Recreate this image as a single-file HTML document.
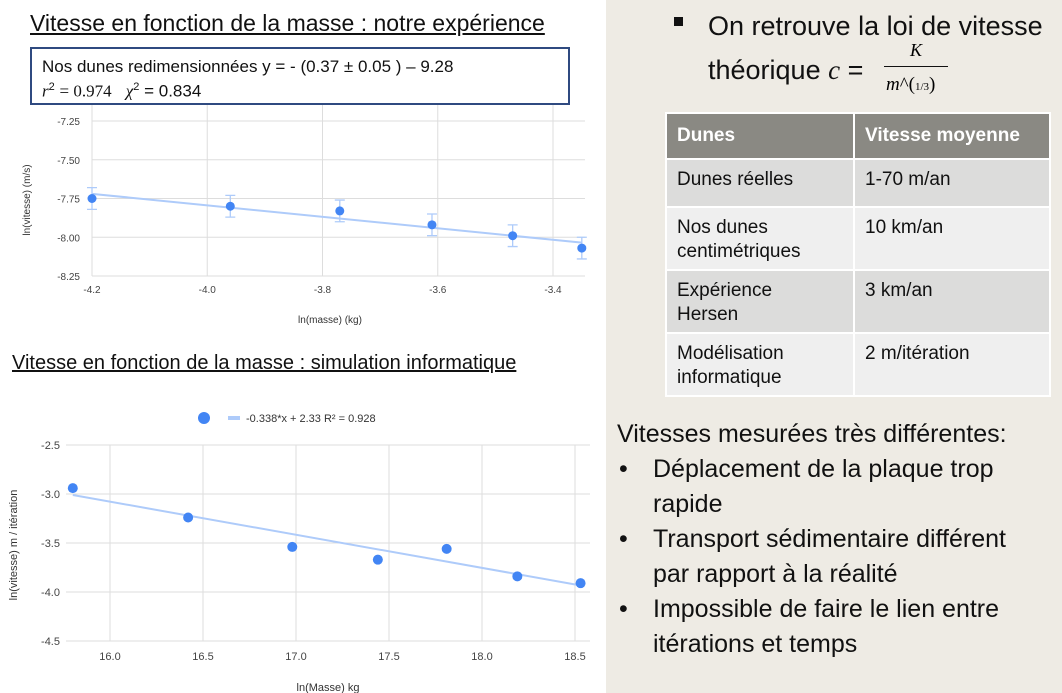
<!DOCTYPE html>
<html><head><meta charset="utf-8"><style>
body{margin:0;width:1062px;height:693px;overflow:hidden;background:#fff;font-family:"Liberation Sans",sans-serif;position:relative}
.abs{position:absolute}
#right{left:606px;top:0;width:456px;height:693px;background:#eeebe4}
.t{font-family:"Liberation Sans",sans-serif;color:#111}
table{border-collapse:collapse;font-size:19px;table-layout:fixed}
td{border:2px solid #fff;padding:8px 10px 0 10px;vertical-align:top;line-height:24px}
</style></head><body>
<div class="abs t" style="left:30px;top:10px;font-size:23px;text-decoration:underline">Vitesse en fonction de la masse : notre expérience</div>
<div class="abs t" style="left:12px;top:352px;font-size:20px;text-decoration:underline">Vitesse en fonction de la masse : simulation informatique</div>
<svg class="abs" id="c1" style="left:0;top:0" width="606" height="340"></svg>
<svg class="abs" id="c2" style="left:0;top:395" width="606" height="298"></svg>
<div class="abs t" style="left:30px;top:47px;width:540px;height:58px;border:2px solid #2f4a80;background:#fff;font-size:17px;padding:0 0 0 10px;box-sizing:border-box;line-height:21px;padding-top:7px">Nos dunes redimensionnées y = - (0.37 ± 0.05 ) – 9.28<br><span style="font-family:'Liberation Serif',serif;font-style:italic">r</span><sup style="font-size:11px">2</sup> <span style="font-family:'Liberation Serif',serif">= 0.974</span> &nbsp; <span style="font-family:'Liberation Serif',serif;font-style:italic">χ</span><sup style="font-size:11px">2</sup> = 0.834</div>
<div class="abs" id="right">
<div class="abs" style="left:68px;top:17px;width:9px;height:9px;background:#111"></div>
<div class="abs t" style="left:102px;top:4px;font-size:27px;line-height:44px">On retrouve la loi de vitesse<br>théorique <span style="font-family:'Liberation Serif',serif;font-style:italic">c</span> = </div>
<div class="abs" style="left:278px;top:40px;font-family:'Liberation Serif',serif;font-size:18px;width:64px;text-align:center"><i>K</i></div>
<div class="abs" style="left:278px;top:66px;width:64px;border-top:1.5px solid #111"></div>
<div class="abs" style="left:280px;top:74px;font-family:'Liberation Serif',serif;font-size:19px"><i>m</i>^(<span style="font-size:11px">1/3</span>)</div>
<table class="abs t" style="left:59px;top:112px;width:386px">
<tr style="background:#8a8983;color:#fff;font-weight:bold;height:46px"><td style="width:166px;padding-top:10px">Dunes</td><td style="padding-top:10px">Vitesse moyenne</td></tr>
<tr style="background:#dcdcdb;height:48px"><td>Dunes réelles</td><td>1-70 m/an</td></tr>
<tr style="background:#efefef;height:63px"><td style="padding-right:30px">Nos dunes centimétriques</td><td>10 km/an</td></tr>
<tr style="background:#dcdcdb;height:63px"><td style="padding-right:50px">Expérience Hersen</td><td>3 km/an</td></tr>
<tr style="background:#efefef;height:63px"><td style="padding-right:30px">Modélisation informatique</td><td>2 m/itération</td></tr>
</table>
<div class="abs t" style="left:11px;top:417px;font-size:25px;line-height:35px;width:440px">Vitesses mesurées très différentes:
<div style="position:relative;padding-left:36px;width:395px">
<div><span style="position:absolute;left:2px">•</span>Déplacement de la plaque trop rapide</div>
<div><span style="position:absolute;left:2px">•</span>Transport sédimentaire différent par rapport à la réalité</div>
<div><span style="position:absolute;left:2px">•</span>Impossible de faire le lien entre itérations et temps</div>
</div></div>
</div>
<script>
const c1X=[-4.2,-3.96,-3.77,-3.61,-3.47,-3.35];
const c1Y=[-7.75,-7.80,-7.83,-7.92,-7.99,-8.07];
const c1Err=[0.07,0.07,0.07,0.07,0.07,0.07];
const c1Trend=[[-4.2,-7.72],[-3.35,-8.035]];
const c1XTicks=[-4.2,-4.0,-3.8,-3.6,-3.4];
const c1YTicks=[-7.25,-7.50,-7.75,-8.00,-8.25];
const c2X=[15.8,16.42,16.98,17.44,17.81,18.19,18.53];
const c2Y=[-2.94,-3.24,-3.54,-3.67,-3.56,-3.84,-3.91];
const c2Slope=-0.338, c2Icpt=2.33;
const c2XTicks=[16.0,16.5,17.0,17.5,18.0,18.5];
const c2YTicks=[-2.5,-3.0,-3.5,-4.0,-4.5];
const NS='http://www.w3.org/2000/svg';
function mk(svg,tag,a,txt){const e=document.createElementNS(NS,tag);for(const k in a)e.setAttribute(k,a[k]);if(txt!==undefined)e.textContent=txt;svg.appendChild(e);return e;}
(function(){const s=document.getElementById('c1');
const x=v=>92+(v+4.2)/0.8*461, y=v=>121+(v+7.25)/-1*155;
c1YTicks.forEach(t=>{mk(s,'line',{x1:92,x2:585,y1:y(t),y2:y(t),stroke:'#ddd'});const l=mk(s,'text',{x:80,y:y(t)+4,'font-size':10,'text-anchor':'end',fill:'#444'},t.toFixed(2));});
c1XTicks.forEach(t=>{mk(s,'line',{x1:x(t),x2:x(t),y1:95,y2:y(-8.25),stroke:'#ddd'});const l=mk(s,'text',{x:x(t),y:y(-8.25)+17,'font-size':10,'text-anchor':'middle',fill:'#444'},t.toFixed(1));});
const tl=mk(s,'line',{x1:x(c1Trend[0][0]),y1:y(c1Trend[0][1]),x2:x(c1Trend[1][0]),y2:y(c1Trend[1][1]),stroke:'#aecbfa','stroke-width':2});

c1X.forEach((v,i)=>{const cx=x(v),t=y(c1Y[i]+c1Err[i]),b=y(c1Y[i]-c1Err[i]);
mk(s,'path',{d:`M${cx} ${t}V${b}M${cx-5} ${t}H${cx+5}M${cx-5} ${b}H${cx+5}`,stroke:'#aecbfa','stroke-width':1.3,fill:'none'});
const p=mk(s,'circle',{cx:cx,cy:y(c1Y[i]),r:4.5,fill:'#4285f4'});
});
mk(s,'text',{x:330,y:323,'font-size':10,'text-anchor':'middle',fill:'#333'},'ln(masse) (kg)');
mk(s,'text',{transform:'translate(30,200) rotate(-90)','font-size':10,'text-anchor':'middle',fill:'#333'},'ln(vitesse) (m/s)');
})();
(function(){const s=document.getElementById('c2');
const x=v=>110+(v-16)/0.5*93, y=v=>50+(v+2.5)/-0.5*49;
c2YTicks.forEach(t=>{mk(s,'line',{x1:66,x2:590,y1:y(t),y2:y(t),stroke:'#ddd'});const l=mk(s,'text',{x:60,y:y(t)+4,'font-size':11,'text-anchor':'end',fill:'#444'},t.toFixed(1));});
c2XTicks.forEach(t=>{mk(s,'line',{x1:x(t),x2:x(t),y1:y(-2.5),y2:y(-4.5),stroke:'#ddd'});const l=mk(s,'text',{x:x(t),y:y(-4.5)+19,'font-size':11,'text-anchor':'middle',fill:'#444'},t.toFixed(1));});
const x0=15.8,x1=18.55;
const tl=mk(s,'line',{x1:x(x0),y1:y(c2Slope*x0+c2Icpt),x2:x(x1),y2:y(c2Slope*x1+c2Icpt),stroke:'#aecbfa','stroke-width':2});

c2X.forEach((v,i)=>{const p=mk(s,'circle',{cx:x(v),cy:y(c2Y[i]),r:5,fill:'#4285f4'});
});
const lg=mk(s,'circle',{cx:204,cy:23,r:6,fill:'#4285f4'});
mk(s,'rect',{x:228,y:21,width:12,height:4,fill:'#aecbfa'});
mk(s,'text',{x:246,y:27,'font-size':11,fill:'#333'},'-0.338*x + 2.33 R² = 0.928');
mk(s,'text',{x:328,y:296,'font-size':11,'text-anchor':'middle',fill:'#333'},'ln(Masse) kg');
mk(s,'text',{transform:'translate(17,150) rotate(-90)','font-size':11,'text-anchor':'middle',fill:'#333'},'ln(vitesse)   m / itération');
})();
</script>
</body></html>
